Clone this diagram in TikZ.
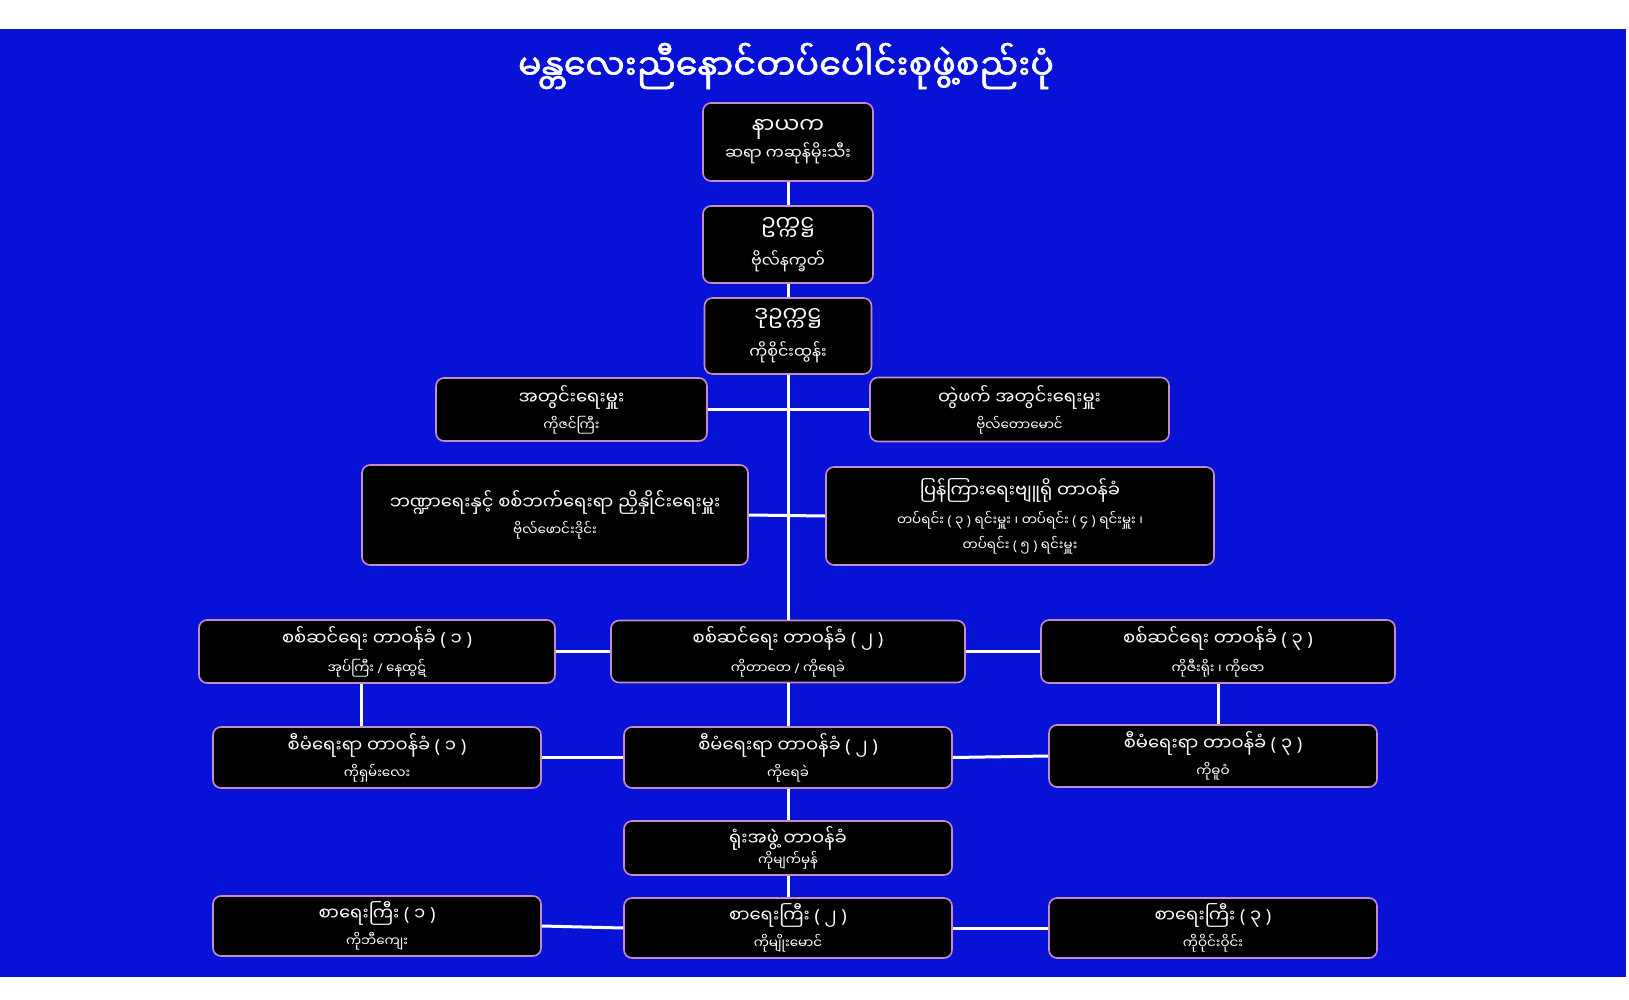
\documentclass[tikz,border=0pt]{standalone}
\usepackage{fontspec}
\newfontfamily\mm[Script=Myanmar]{Noto Sans Myanmar UI}
\newfontfamily\mmb[Script=Myanmar,FakeBold=1.5]{Noto Sans Myanmar UI}
\newfontfamily\latf{Noto Sans}
\newcommand{\lp}{{\latf (}}
\newcommand{\rp}{{\latf )}}
\newcommand{\sla}{{\latf /}}
\definecolor{bgblue}{RGB}{8,18,214}
\definecolor{boxedge}{RGB}{196,140,200}
\tikzset{
  orgbox/.style={draw=boxedge, line width=1.6pt, fill=black, rounded corners=8pt, text=white, align=center, inner sep=2pt, font=\mm},
  link/.style={draw=white, line width=3pt}
}
\newcommand{\mainl}[1]{{\fontsize{18}{22}\selectfont #1}}
\newcommand{\subl}[1]{{\fontsize{13.5}{17}\selectfont #1}}
\newcommand{\topm}[1]{{\fontsize{22}{26}\selectfont #1}}
\newcommand{\tops}[1]{{\fontsize{16}{20}\selectfont #1}}
\begin{document}
\begin{tikzpicture}[x=1pt,y=-1pt]
\useasboundingbox (0,0) rectangle (1629,1000);
\fill[white] (0,0) rectangle (1629,1000);
\fill[bgblue] (0,29) rectangle (1626,977);
\node[text=white, font=\mmb\fontsize{35}{40}\selectfont] (title) at (786,66) {မန္တလေးညီနောင်တပ်ပေါင်းစုဖွဲ့စည်းပုံ};
% boxes
\node[orgbox, minimum width=170pt, minimum height=78pt] (nayaka) at (788,142) {\topm{နာယက}\\[2pt]\tops{ဆရာ ကဆုန်မိုးသီး}};
\node[orgbox, minimum width=170pt, minimum height=77pt] (chair) at (788,244.5) {\raisebox{-6pt}{\topm{ဥက္ကဋ္ဌ}}\\[12pt]\tops{ဗိုလ်နက္ခတ်}};
\node[orgbox, minimum width=167pt, minimum height=76pt] (vice) at (788,336) {\raisebox{-6pt}{\topm{ဒုဥက္ကဋ္ဌ}}\\[12pt]\tops{ကိုစိုင်းထွန်း}};
\node[orgbox, minimum width=271pt, minimum height=63pt] (sec) at (571.5,409.5) {\mainl{အတွင်းရေးမှူး}\\[6pt]\subl{ကိုဇင်ကြီး}};
\node[orgbox, minimum width=299pt, minimum height=64pt] (joint) at (1019.5,409.5) {\mainl{တွဲဖက် အတွင်းရေးမှူး}\\[6pt]\subl{ဗိုလ်တောမောင်}};
\node[orgbox, minimum width=386pt, minimum height=100pt] (fin) at (555,515) {\mainl{ဘဏ္ဍာရေးနှင့် စစ်ဘက်ရေးရာ ညှိနှိုင်းရေးမှူး}\\[6pt]\subl{ဗိုလ်ဖောင်းဒိုင်း}};
\node[orgbox, minimum width=388pt, minimum height=98pt] (info) at (1020,516) {\mainl{ပြန်ကြားရေးဗျူရို တာဝန်ခံ}\\[8pt]\subl{တပ်ရင်း \lp\ ၃ \rp\ ရင်းမှူး ၊ တပ်ရင်း \lp\ ၄ \rp\ ရင်းမှူး ၊}\\[6pt]\subl{တပ်ရင်း \lp\ ၅ \rp\ ရင်းမှူး}};
\node[orgbox, minimum width=356pt, minimum height=63pt] (ops1) at (377,651.5) {\mainl{စစ်ဆင်ရေး တာဝန်ခံ \lp\ ၁ \rp}\\[8pt]\subl{အုပ်ကြီး \sla\ နေထွဋ်}};
\node[orgbox, minimum width=354pt, minimum height=62pt] (ops2) at (788,651.5) {\mainl{စစ်ဆင်ရေး တာဝန်ခံ \lp\ ၂ \rp}\\[8pt]\subl{ကိုတာတေ \sla\ ကိုရေခဲ}};
\node[orgbox, minimum width=354pt, minimum height=63pt] (ops3) at (1218,651.5) {\mainl{စစ်ဆင်ရေး တာဝန်ခံ \lp\ ၃ \rp}\\[8pt]\subl{ကိုဇီးရိုး ၊ ကိုဇော}};
\node[orgbox, minimum width=328pt, minimum height=61pt] (adm1) at (377,757.5) {\mainl{စီမံရေးရာ တာဝန်ခံ \lp\ ၁ \rp}\\[6pt]\subl{ကိုရှမ်းလေး}};
\node[orgbox, minimum width=328pt, minimum height=61pt] (adm2) at (788,757.5) {\mainl{စီမံရေးရာ တာဝန်ခံ \lp\ ၂ \rp}\\[6pt]\subl{ကိုရေခဲ}};
\node[orgbox, minimum width=328pt, minimum height=62pt] (adm3) at (1213,756) {\mainl{စီမံရေးရာ တာဝန်ခံ \lp\ ၃ \rp}\\[6pt]\subl{ကိုဓူဝံ}};
\node[orgbox, minimum width=328pt, minimum height=54pt] (office) at (788,848) {\mainl{ရုံးအဖွဲ့ တာဝန်ခံ}\\[0pt]\subl{ကိုမျက်မှန်}};
\node[orgbox, minimum width=328pt, minimum height=60pt] (clerk1) at (377,926) {\mainl{စာရေးကြီး \lp\ ၁ \rp}\\[6pt]\subl{ကိုဘီကျေး}};
\node[orgbox, minimum width=328pt, minimum height=60pt] (clerk2) at (788,928) {\mainl{စာရေးကြီး \lp\ ၂ \rp}\\[6pt]\subl{ကိုမျိုးမောင်}};
\node[orgbox, minimum width=328pt, minimum height=60pt] (clerk3) at (1213,928) {\mainl{စာရေးကြီး \lp\ ၃ \rp}\\[6pt]\subl{ကိုဝိုင်းဝိုင်း}};
% connectors
\draw[link] (nayaka.south) -- (chair.north);
\draw[link] (chair.south) -- (vice.north);
\draw[link] (vice.south) -- (ops2.north);
\draw[link] (ops2.south) -- (adm2.north);
\draw[link] (adm2.south) -- (office.north);
\draw[link] (office.south) -- (clerk2.north);
\draw[link] (sec.east) -- (joint.west);
\draw[link] (fin.east) -- (info.west);
\draw[link] (ops1.east) -- (ops2.west);
\draw[link] (ops2.east) -- (ops3.west);
\draw[link] ([xshift=-16pt]ops1.south) -- ([xshift=-16pt]adm1.north);
\draw[link] (ops3.south) -- (ops3.south |- adm3.north);
\draw[link] (adm1.east) -- (adm2.west);
\draw[link] (adm2.east) -- (adm3.west);
\draw[link] (clerk1.east) -- (clerk2.west);
\draw[link] (clerk2.east) -- (clerk3.west);
\end{tikzpicture}
\end{document}
